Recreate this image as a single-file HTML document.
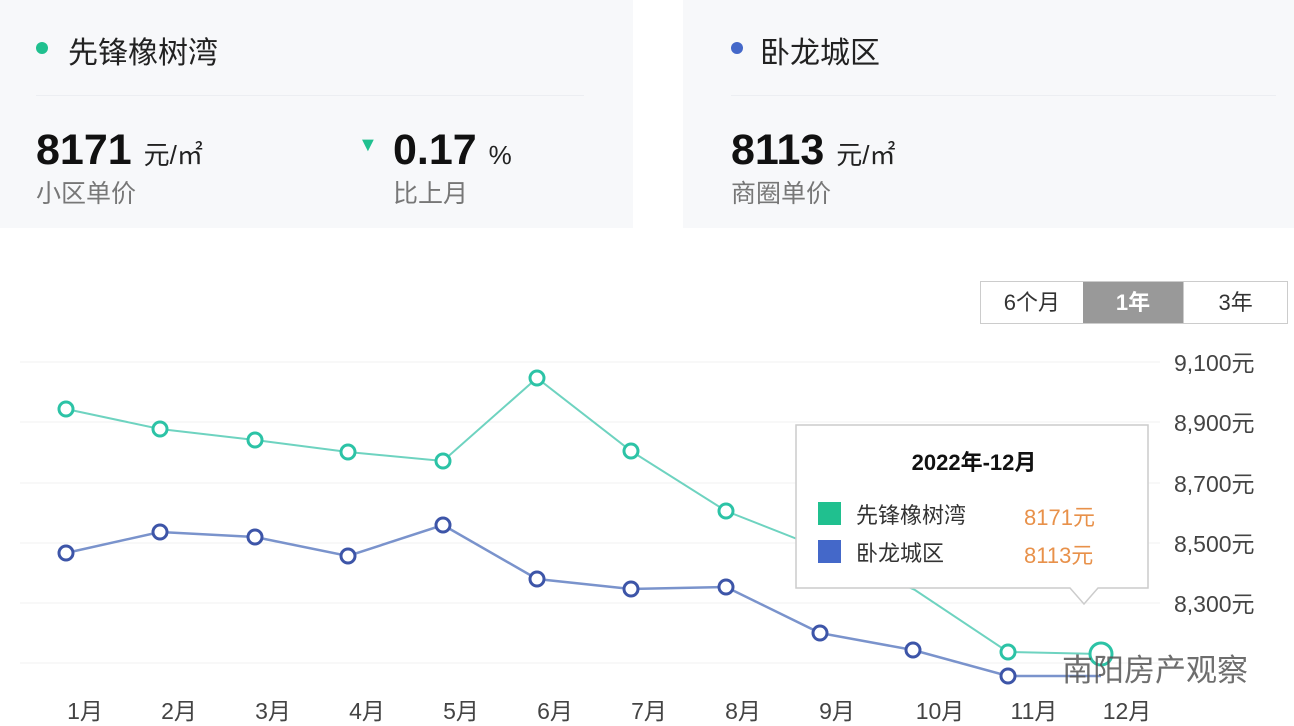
<!DOCTYPE html>
<html><head><meta charset="utf-8"><style>
body{margin:0;width:1294px;height:726px;background:#fff;font-family:"Liberation Sans","Noto Sans CJK SC",sans-serif;position:relative;overflow:hidden}
.card{position:absolute;top:0;height:228px;background:#f7f8fa}
.t{position:absolute;white-space:nowrap}
</style></head><body>
<div class="card" style="left:0;width:633px"></div>
<div class="card" style="left:683px;width:611px"></div>
<div class="t" style="left:36px;top:42px;width:12px;height:12px;border-radius:50%;background:#20c08f"></div>
<div class="t" style="left:68px;top:28px;font-size:30px;color:#222">先锋橡树湾</div>
<div class="t" style="left:36px;top:95px;width:548px;height:1px;background:#eceef2"></div>
<div class="t" style="left:36px;top:126px;font-size:43px;font-weight:bold;color:#111">8171 <span style="font-size:26px;font-weight:normal;color:#222">元/㎡</span></div>
<div class="t" style="left:36px;top:174px;font-size:25px;color:#777">小区单价</div>
<div class="t" style="left:358px;top:134px;font-size:20px;color:#20c08f">▼</div>
<div class="t" style="left:393px;top:126px;font-size:43px;font-weight:bold;color:#111">0.17 <span style="font-size:26px;font-weight:normal;color:#222">%</span></div>
<div class="t" style="left:393px;top:174px;font-size:25px;color:#777">比上月</div>
<div class="t" style="left:731px;top:42px;width:12px;height:12px;border-radius:50%;background:#4468c9"></div>
<div class="t" style="left:760px;top:28px;font-size:30px;color:#222">卧龙城区</div>
<div class="t" style="left:731px;top:95px;width:545px;height:1px;background:#eceef2"></div>
<div class="t" style="left:731px;top:126px;font-size:43px;font-weight:bold;color:#111">8113 <span style="font-size:26px;font-weight:normal;color:#222">元/㎡</span></div>
<div class="t" style="left:731px;top:174px;font-size:25px;color:#777">商圈单价</div>
<div class="t" style="left:980px;top:281px;width:306px;height:41px;border:1px solid #ccc;display:flex;font-size:22px;color:#333">
<div style="width:102px;text-align:center;line-height:41px">6个月</div>
<div style="width:101px;text-align:center;line-height:41px;background:#999;color:#fff;font-weight:bold">1年</div>
<div style="width:103px;text-align:center;line-height:41px;border-left:1px solid #ccc">3年</div></div>
<svg class="t" style="left:0;top:0" width="1294" height="726">
<g stroke="#f0f0f0" stroke-width="1">
<line x1="20" x2="1160" y1="362" y2="362"/><line x1="20" x2="1160" y1="422" y2="422"/><line x1="20" x2="1160" y1="483" y2="483"/><line x1="20" x2="1160" y1="543" y2="543"/><line x1="20" x2="1160" y1="603" y2="603"/><line x1="20" x2="1160" y1="663" y2="663"/></g>
<g font-size="23" fill="#444" font-family="Liberation Sans,Noto Sans CJK SC,sans-serif">
<text x="1174" y="371">9,100元</text><text x="1174" y="431">8,900元</text><text x="1174" y="492">8,700元</text><text x="1174" y="552">8,500元</text><text x="1174" y="612">8,300元</text>
</g>
<g font-size="23" fill="#444" text-anchor="middle" font-family="Liberation Sans,Noto Sans CJK SC,sans-serif">
<text x="85" y="719">1月</text><text x="179" y="719">2月</text><text x="273" y="719">3月</text><text x="367" y="719">4月</text><text x="461" y="719">5月</text><text x="555" y="719">6月</text><text x="649" y="719">7月</text><text x="743" y="719">8月</text><text x="837" y="719">9月</text><text x="940" y="719">10月</text><text x="1034" y="719">11月</text><text x="1127" y="719">12月</text>
</g>
<polyline fill="none" stroke="#6ed3c0" stroke-width="2" points="66,409 160,429 255,440 348,452 443,461 537,378 631,451 726,511 820,548 915,590 1008,652 1101,654"/>
<polyline fill="none" stroke="#7a93cc" stroke-width="2.5" points="66,553 160,532 255,537 348,556 443,525 537,579 631,589 726,587 820,633 913,650 1008,676 1101,676"/>
<g fill="#fff" stroke="#2cc3a6" stroke-width="3"><circle cx="66" cy="409" r="7"/><circle cx="160" cy="429" r="7"/><circle cx="255" cy="440" r="7"/><circle cx="348" cy="452" r="7"/><circle cx="443" cy="461" r="7"/><circle cx="537" cy="378" r="7"/><circle cx="631" cy="451" r="7"/><circle cx="726" cy="511" r="7"/><circle cx="1008" cy="652" r="7"/><circle cx="1101" cy="654" r="11"/></g>
<g fill="#fff" stroke="#3d55a8" stroke-width="3"><circle cx="66" cy="553" r="7"/><circle cx="160" cy="532" r="7"/><circle cx="255" cy="537" r="7"/><circle cx="348" cy="556" r="7"/><circle cx="443" cy="525" r="7"/><circle cx="537" cy="579" r="7"/><circle cx="631" cy="589" r="7"/><circle cx="726" cy="587" r="7"/><circle cx="820" cy="633" r="7"/><circle cx="913" cy="650" r="7"/><circle cx="1008" cy="676" r="7"/></g>
<path d="M796,425 H1148 V588 H1098 L1084,604 L1070,588 H796 Z" fill="#fff" stroke="#ccc" stroke-width="1.5"/>
<text x="974" y="470" text-anchor="middle" font-size="22" font-weight="bold" fill="#111" font-family="Liberation Sans,Noto Sans CJK SC,sans-serif">2022年-12月</text>
<rect x="818" y="502" width="23" height="23" fill="#20c08f"/><rect x="818" y="540" width="23" height="23" fill="#4468c9"/>
<g font-size="22" font-family="Liberation Sans,Noto Sans CJK SC,sans-serif"><text x="856" y="523" fill="#333">先锋橡树湾</text><text x="856" y="561" fill="#333">卧龙城区</text>
<text x="1024" y="525" fill="#e8914a">8171元</text><text x="1024" y="563" fill="#e8914a">8113元</text></g>
<text x="1062" y="681" font-size="31" fill="#555" opacity="0.85" font-family="Liberation Sans,Noto Sans CJK SC,sans-serif">南阳房产观察</text>
</svg>
</body></html>
